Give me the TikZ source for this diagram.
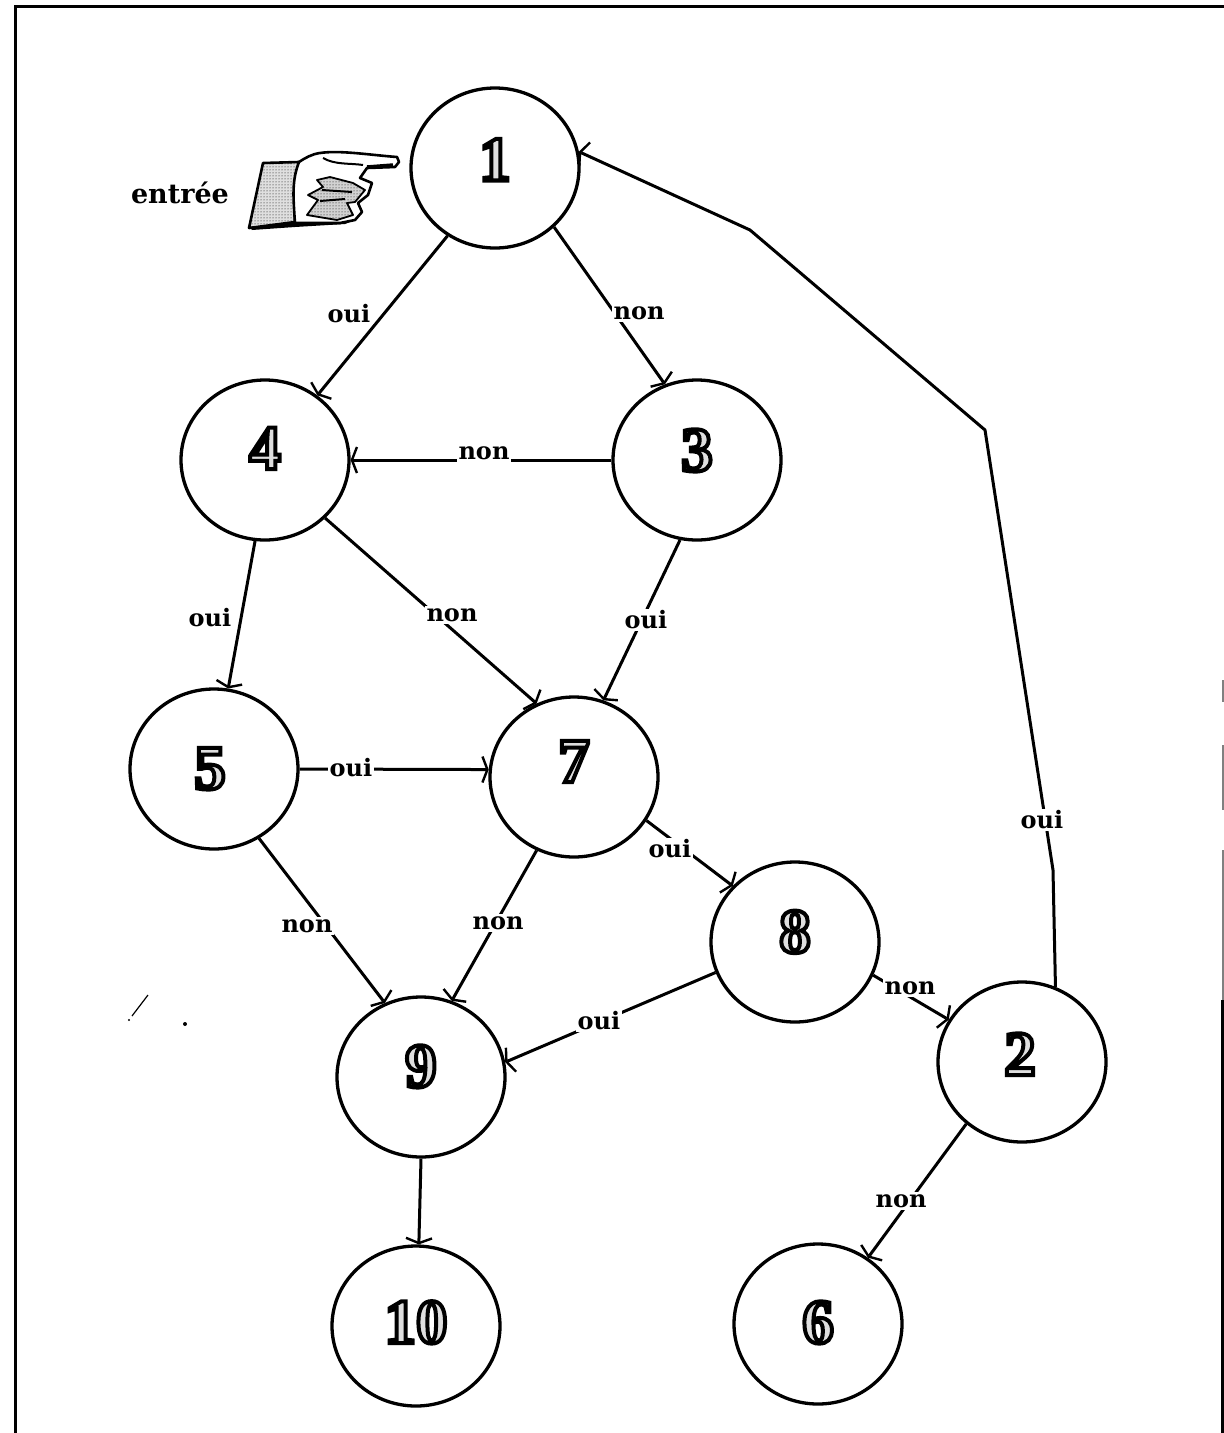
\documentclass[tikz,border=0pt]{standalone}
\usepackage{fontspec}
\setmainfont{DejaVu Serif}
\newfontfamily\digitfont{Liberation Serif}
\usepackage{tikz}
\usetikzlibrary{arrows.meta,patterns,shapes.geometric}
\newcommand{\fatdigit}[3]{\raisebox{\dimexpr #1pt-21pt\relax}[0pt][0pt]{\makebox[0pt]{\kern #2pt\fontsize{63}{63}\selectfont\digitfont\bfseries\textcolor{gray!25}{\special{pdf:code 0 G 2 Tr 4 w}#3\special{pdf:code 0 Tr 1 w}}}}}
\tikzset{
  state/.style={ellipse,draw=black,line width=3.3pt,minimum width=168pt,minimum height=160pt,inner sep=0pt,fill=white},
  link/.style={line width=3pt,draw=black,-{Straight Barb[length=5pt,width=26pt,line width=2.4pt]},line join=round},
  lab/.style={fill=white,inner sep=2pt,font=\fontsize{24}{24}\selectfont\bfseries},
  hand/.style={draw=black,line width=2.6pt,line join=round}
}
\begin{document}
\begin{tikzpicture}[x=1pt,y=-1pt]
\useasboundingbox (0,0) rectangle (1224,1433);
\fill[white] (0,0) rectangle (1224,1433);
\draw[line width=3pt] (15,1433) -- (15,6) -- (1224,6);
\draw[line width=2pt,gray] (1223,680) -- (1223,702) (1223,745) -- (1223,810) (1223,850) -- (1223,1000);
\draw[line width=3pt] (1222,1000) -- (1222,1433);
\draw[line width=1.2pt] (148,995) -- (132,1016);
\fill (129,1020) circle (1.2pt);
\fill (185,1024) circle (2pt);
% nodes
\node[state] (n1) at (495,168) {\fatdigit{8.5}{0}{1}};
\node[state] (n4) at (265,460) {\fatdigit{12}{0}{4}};
\node[state] (n3) at (697,460) {\fatdigit{10}{0}{3}};
\node[state] (n5) at (214,769) {\fatdigit{1}{-8}{5}};
\node[state] (n7) at (574,777) {\fatdigit{16}{0}{7}};
\node[state] (n8) at (795,942) {\fatdigit{10.5}{0}{8}};
\node[state] (n9) at (421,1077) {\fatdigit{11}{0}{9}};
\node[state] (n2) at (1022,1062) {\fatdigit{8}{-4}{2}};
\node[state] (n10) at (416,1326) {\fatdigit{4}{0}{10}};
\node[state] (n6) at (818,1324) {\fatdigit{2}{0}{6}};
% bend points of the long return
\coordinate (r1) at (1053,870);
\coordinate (r2) at (985,430);
\coordinate (r3) at (750,230);
% connectors
\draw[link] (n1.-125) -- (n4.51);
\draw[link] (n1.-45) -- (n3.113);
\draw[link] (n3.180) -- (n4.0);
\draw[link] (n3.-102) -- (n7.69);
\draw[link] (n4.-97) -- (n5.80);
\draw[link] (n4.-44) -- (n7.117);
\draw[link] (n5.0) -- (n7.175);
\draw[link] (n5.-57) -- (n9.116);
\draw[link] (n7.-117) -- (n9.68);
\draw[link] (n7.-31) -- (n8.138);
\draw[link] (n8.-159) -- (n9.10);
\draw[link] (n8.-23) -- (n2.150);
\draw[link] (n2.-132) -- (n6.53);
\draw[link] (n9.-90) -- (n10.88);
\draw[link] (n2.66) -- (r1) -- (r2) -- (r3) -- (n1.11);
% labels
\node[lab] (l1) at (349,314) {oui};
\node[lab] (l2) at (639,313) {non};
\node[lab] (l3) at (484,453) {non};
\node[lab] (l4) at (210,618) {oui};
\node[lab] (l5) at (452,615) {non};
\node[lab] (l6) at (646,620) {oui};
\node[lab] (l7) at (351,768) {oui};
\node[lab] (l8) at (670,849) {oui};
\node[lab] (l9) at (307,926) {non};
\node[lab] (l10) at (498,923) {non};
\node[lab] (l11) at (910,988) {non};
\node[lab] (l12) at (599,1021) {oui};
\node[lab] (l13) at (1042,820) {oui};
\node[lab] (l14) at (901,1201) {non};
\node[lab,fill=none,font=\fontsize{27}{27}\selectfont\bfseries] (entree) at (180,193) {entrée};
% pointing hand
\filldraw[hand,fill=gray!25] (263,163) -- (299,162) -- (295,198) -- (295,222) -- (249,228) -- cycle;
\fill[pattern=dots,pattern color=black] (263,163) -- (299,162) -- (295,198) -- (295,222) -- (249,228) -- cycle;
\filldraw[hand,fill=white] (299,162) .. controls (305,158) and (312,154) .. (320,153)
  .. controls (340,150) and (370,155) .. (397,157) -- (399,162) -- (395,167) -- (367,168)
  -- (360,178) -- (372,183) -- (368,195) -- (358,203) -- (362,212) -- (355,220) -- (340,223)
  -- (295,223) .. controls (293,195) and (292,180) .. (299,162) -- cycle;
\filldraw[hand,line width=1.8pt,fill=gray!35] (317,180) -- (330,177) -- (353,183) -- (365,190) -- (355,202)
  -- (347,203) -- (353,215) -- (337,220) -- (307,215) -- (318,200) -- (308,195) -- (323,187) -- cycle;
\fill[pattern=dots,pattern color=black] (317,180) -- (330,177) -- (353,183) -- (365,190) -- (355,202)
  -- (347,203) -- (353,215) -- (337,220) -- (307,215) -- (318,200) -- (308,195) -- (323,187) -- cycle;
\draw[line width=2pt] (323,158) .. controls (335,165) and (350,163) .. (363,165);
\draw[line width=3.5pt] (367,167) -- (393,165);
\draw[line width=2pt] (322,190) -- (352,192) (320,201) -- (345,199);
\fill (250,227) -- (295,222) -- (340,223) -- (355,220) -- (345,224) -- (295,227) -- (252,230) -- cycle;
\end{tikzpicture}
\end{document}
